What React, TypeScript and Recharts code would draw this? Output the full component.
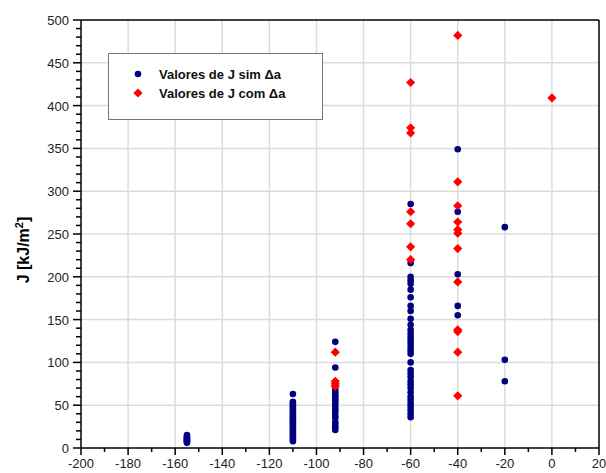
import React from 'react';
import { ScatterChart, Scatter, XAxis, YAxis, ReferenceLine } from 'recharts';

// temperature groups (x) and J values
const blueAtM155 = [15, 13, 12, 11, 10, 9, 8, 7, 6];
const blueAtM110 = [63, 54, 52, 50, 48, 46, 44, 42, 40, 38, 36, 34, 32, 30, 28, 26, 24, 22, 20, 18, 16, 14, 12, 10, 8];
const blueAtM92 = [124, 94, 68, 65, 62, 60, 57, 55, 52, 48, 45, 42, 38, 35, 30, 27, 24, 21];
const blueAtM60 = [285, 216, 200, 196, 192, 185, 176, 166, 160, 151, 144, 138, 134, 130, 126, 122, 118, 114, 110, 100, 91, 87, 83, 78, 74, 70, 65, 60, 56, 52, 48, 44, 40, 36];
const blueAtM40 = [349, 276, 203, 166, 155];
const blueAtM20 = [258, 103, 78];

const redAtM92 = [112, 78, 75, 72];
const redAtM60 = [427, 374, 368, 276, 262, 235, 220];
const redAtM40 = [482, 311, 283, 264, 255, 251, 233, 194, 138, 136, 112, 61];
const redAt0 = [409];

const blueGroups: [number, number[]][] = [
  [-155, blueAtM155], [-110, blueAtM110], [-92, blueAtM92], [-60, blueAtM60], [-40, blueAtM40], [-20, blueAtM20],
];
const redGroups: [number, number[]][] = [
  [-92, redAtM92], [-60, redAtM60], [-40, redAtM40], [0, redAt0],
];

const semDa = blueGroups.flatMap(([t, js]) => js.map(j => ({ t, j })));
const comDa = redGroups.flatMap(([t, js]) => js.map(j => ({ t, j })));

const xTicks = [-200, -190, -180, -170, -160, -150, -140, -130, -120, -110, -100, -90, -80, -70, -60, -50, -40, -30, -20, -10, 0, 10, 20];
const yTicks = [0, 10, 20, 30, 40, 50, 60, 70, 80, 90, 100, 110, 120, 130, 140, 150, 160, 170, 180, 190, 200, 210, 220, 230, 240, 250, 260, 270, 280, 290, 300, 310, 320, 330, 340, 350, 360, 370, 380, 390, 400, 410, 420, 430, 440, 450, 460, 470, 480, 490, 500];
const xGrid = [-180, -160, -140, -120, -100, -80, -60, -40, -20, 0];
const yGrid = [50, 100, 150, 200, 250, 300, 350, 400, 450];

const FONT = '"Liberation Sans", Arial, sans-serif';
const BLUE = '#000080';
const RED = '#ff0000';

const XTick = (props: any) => {
  const { x, y, payload } = props;
  const major = payload.value % 20 === 0;
  return (
    <g>
      <line x1={x} y1={y} x2={x} y2={y + (major ? 7 : 4)} stroke="#000" strokeWidth={1.5} />
      {major && (
        <text x={x} y={y + 20} textAnchor="middle" fontSize={13} fontFamily={FONT} fill="#222">{payload.value}</text>
      )}
    </g>
  );
};

const YTick = (props: any) => {
  const { x, y, payload } = props;
  const major = payload.value % 50 === 0;
  return (
    <g>
      <line x1={x} y1={y} x2={x - (major ? 8 : 5)} y2={y} stroke="#000" strokeWidth={1.5} />
      {major && (
        <text x={x - 12} y={y + 5} textAnchor="end" fontSize={13} fontFamily={FONT} fill="#222">{payload.value}</text>
      )}
    </g>
  );
};

const YLabel = () => (
  <text transform="translate(29,250) rotate(-90)" textAnchor="middle" fontSize={16} fontWeight="bold" fontFamily={FONT} fill="#000">
    J [kJ/m<tspan dy={-6} fontSize={11}>2</tspan><tspan dy={6}>]</tspan>
  </text>
);

const Dot = (props: any) => <circle cx={props.cx} cy={props.cy} r={3.3} fill={BLUE} />;
const Diamond = (props: any) => {
  const { cx, cy } = props;
  const s = 4.6;
  return <polygon points={`${cx},${cy - s} ${cx + s},${cy} ${cx},${cy + s} ${cx - s},${cy}`} fill={RED} />;
};

const LegendBox = () => (
  <svg width={216} height={68} style={{ display: 'block' }}>
    <rect x={0.5} y={0.5} width={214} height={66} fill="#fff" stroke="#777" />
    <circle cx={30} cy={21} r={3.3} fill={BLUE} />
    <text x={51} y={26} fontSize={13} fontWeight="bold" fontFamily={FONT} fill="#111">Valores de J sim Δa</text>
    <polygon points="30,35.4 34.6,40 30,44.6 25.4,40" fill={RED} />
    <text x={51} y={45} fontSize={13} fontWeight="bold" fontFamily={FONT} fill="#111">Valores de J com Δa</text>
  </svg>
);

export default function App() {
  return (
    <div style={{ position: 'absolute', left: 0, top: 0, width: 606, height: 473, background: '#fff' }}>
      <ScatterChart width={606} height={473} margin={{ top: 20, right: 7, bottom: 0, left: 0 }}>
        {xGrid.map(v => <ReferenceLine key={'gx' + v} x={v} stroke="#dcdcdc" strokeWidth={1.5} />)}
        {yGrid.map(v => <ReferenceLine key={'gy' + v} y={v} stroke="#dcdcdc" strokeWidth={1.5} />)}
        <ReferenceLine y={500} stroke="#000" strokeWidth={1.5} />
        <ReferenceLine x={20} stroke="#000" strokeWidth={1.5} />
        <XAxis type="number" dataKey="t" domain={[-200, 20]} ticks={xTicks} interval={0} height={25}
          axisLine={{ stroke: '#000', strokeWidth: 1.5 }} tickLine={false} tickSize={0} tickMargin={0} tick={<XTick />} />
        <YAxis type="number" dataKey="j" domain={[0, 500]} ticks={yTicks} interval={0} width={81}
          axisLine={{ stroke: '#000', strokeWidth: 1.5 }} tickLine={false} tickSize={0} tickMargin={0} tick={<YTick />}
          label={{ content: <YLabel /> }} />
        <Scatter name="Valores de J sim Δa" data={semDa} shape={<Dot />} isAnimationActive={false} />
        <Scatter name="Valores de J com Δa" data={comDa} shape={<Diamond />} isAnimationActive={false} />
      </ScatterChart>
      <div style={{ position: 'absolute', left: 108, top: 53 }}>
        <LegendBox />
      </div>
    </div>
  );
}
